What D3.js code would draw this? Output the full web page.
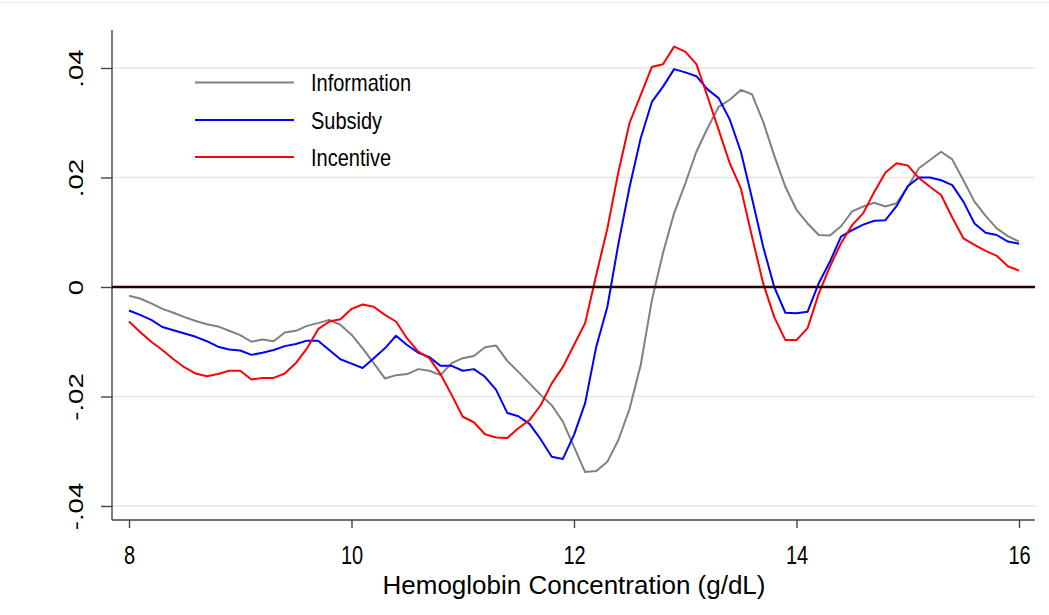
<!DOCTYPE html>
<html>
<head>
<meta charset="utf-8">
<script src="https://cdn.jsdelivr.net/npm/d3@7"></script>
<style>
  html, body { margin: 0; padding: 0; background: #fff; }
  svg { display: block; }
  text { font-family: "Liberation Sans", Arial, Helvetica, sans-serif; fill: #000; }
</style>
</head>
<body>
<svg id="chart" width="1049" height="615"></svg>
<script>
const hemoglobin = [8.0,8.1,8.2,8.3,8.4,8.5,8.6,8.7,8.8,8.9,9.0,9.1,9.2,9.3,9.4,9.5,9.6,9.7,9.8,9.9,
  10.0,10.1,10.2,10.3,10.4,10.5,10.6,10.7,10.8,10.9,11.0,11.1,11.2,11.3,11.4,11.5,11.6,11.7,11.8,11.9,
  12.0,12.1,12.2,12.3,12.4,12.5,12.6,12.7,12.8,12.9,13.0,13.1,13.2,13.3,13.4,13.5,13.6,13.7,13.8,13.9,
  14.0,14.1,14.2,14.3,14.4,14.5,14.6,14.7,14.8,14.9,15.0,15.1,15.2,15.3,15.4,15.5,15.6,15.7,15.8,15.9,16.0];

const information = [-0.0016,-0.0021,-0.0030,-0.0040,-0.0047,-0.0055,-0.0062,-0.0068,-0.0072,-0.0080,
  -0.0088,-0.0100,-0.0096,-0.0099,-0.0083,-0.0080,-0.0071,-0.0066,-0.0060,-0.0069,
  -0.0087,-0.0112,-0.0139,-0.0167,-0.0161,-0.0159,-0.0150,-0.0153,-0.0161,-0.0139,
  -0.0130,-0.0126,-0.0110,-0.0107,-0.0135,-0.0155,-0.0176,-0.0197,-0.0216,-0.0246,
  -0.0292,-0.0338,-0.0336,-0.0319,-0.0279,-0.0222,-0.0142,-0.0024,0.0062,0.0135,
  0.0189,0.0247,0.0290,0.0329,0.0342,0.0360,0.0352,0.0302,0.0240,0.0183,
  0.0141,0.0116,0.0095,0.0094,0.0111,0.0138,0.0147,0.0154,0.0147,0.0153,
  0.0183,0.0217,0.0232,0.0247,0.0233,0.0195,0.0156,0.0130,0.0107,0.0093,0.0083];

const subsidy = [-0.0043,-0.0051,-0.0060,-0.0073,-0.0079,-0.0085,-0.0091,-0.0099,-0.0109,-0.0114,
  -0.0116,-0.0124,-0.0120,-0.0115,-0.0108,-0.0104,-0.0098,-0.0098,-0.0115,-0.0132,
  -0.0140,-0.0148,-0.0130,-0.0112,-0.0089,-0.0106,-0.0120,-0.0128,-0.0144,-0.0144,
  -0.0153,-0.0150,-0.0164,-0.0188,-0.0230,-0.0236,-0.0250,-0.0278,-0.0310,-0.0314,
  -0.0270,-0.0212,-0.0109,-0.0036,0.0080,0.0183,0.0272,0.0338,0.0366,0.0398,
  0.0392,0.0385,0.0361,0.0345,0.0306,0.0247,0.0162,0.0074,0.0000,-0.0047,
  -0.0048,-0.0045,0.0007,0.0046,0.0092,0.0104,0.0114,0.0121,0.0122,0.0148,
  0.0184,0.0200,0.0200,0.0195,0.0186,0.0156,0.0116,0.0099,0.0095,0.0083,0.0079];

const incentive = [-0.0063,-0.0082,-0.0100,-0.0115,-0.0132,-0.0147,-0.0158,-0.0163,-0.0159,-0.0153,
  -0.0153,-0.0169,-0.0166,-0.0166,-0.0158,-0.0139,-0.0112,-0.0077,-0.0063,-0.0059,
  -0.0040,-0.0032,-0.0036,-0.0051,-0.0063,-0.0094,-0.0118,-0.0130,-0.0159,-0.0197,
  -0.0237,-0.0247,-0.0269,-0.0275,-0.0276,-0.0258,-0.0243,-0.0216,-0.0176,-0.0146,
  -0.0106,-0.0066,0.0022,0.0107,0.0211,0.0300,0.0351,0.0402,0.0407,0.0439,
  0.0430,0.0407,0.0348,0.0287,0.0226,0.0180,0.0092,0.0007,-0.0055,-0.0097,
  -0.0097,-0.0075,-0.0012,0.0037,0.0080,0.0113,0.0135,0.0174,0.0209,0.0226,
  0.0222,0.0199,0.0183,0.0168,0.0127,0.0089,0.0077,0.0066,0.0057,0.0038,0.0030];

const seriesNames = ["Information", "Subsidy", "Incentive"];
const seriesColors = ["#808080", "#0000ff", "#ff0000"];
const xTicks = [8, 10, 12, 14, 16];
const yTicks = [-0.04, -0.02, 0, 0.02, 0.04];
const yTickLabels = ["-.04", "-.02", "0", ".02", ".04"];
const xTitle = "Hemoglobin Concentration (g/dL)";

const svg = d3.select("#chart");
const x = d3.scaleLinear().domain([8, 16]).range([129, 1019]);
const y = d3.scaleLinear().domain([-0.04, 0.04]).range([506, 68]);
const plotLeft = 112, plotRight = 1035, plotTop = 30, plotBottom = 520;
const stretch = 1.32; // tick text in the reference is vertically stretched

// top faint border
svg.append("line").attr("x1", 0).attr("x2", 1049).attr("y1", 2.5).attr("y2", 2.5)
  .attr("stroke", "#eeeeee").attr("stroke-width", 1.5);

// gridlines
svg.append("g").selectAll("line").data(yTicks.filter(d => d !== 0)).join("line")
  .attr("x1", plotLeft).attr("x2", plotRight)
  .attr("y1", d => y(d)).attr("y2", d => y(d))
  .attr("stroke", "#e6e6e6").attr("stroke-width", 1.6);

// y axis
const yAxis = d3.axisLeft(y).tickValues(yTicks).tickSize(11).tickFormat((d, i) => yTickLabels[i]);
const gy = svg.append("g").attr("transform", `translate(${plotLeft},0)`).call(yAxis);
gy.select(".domain").remove();
gy.selectAll(".tick line").attr("stroke", "#444").attr("stroke-width", 1.4);
gy.selectAll(".tick text")
  .attr("font-size", 20).attr("font-family", "Liberation Sans, Arial, sans-serif")
  .attr("text-anchor", "middle").attr("x", null).attr("dy", null)
  .attr("transform", `translate(-29,0) rotate(-90) scale(1.38,1)`);
svg.append("line").attr("x1", plotLeft).attr("x2", plotLeft).attr("y1", plotTop).attr("y2", plotBottom)
  .attr("stroke", "#444").attr("stroke-width", 1.4);

// x axis
const xAxis = d3.axisBottom(x).tickValues(xTicks).tickSize(8).tickFormat(d3.format("d"));
const gx = svg.append("g").attr("transform", `translate(0,${plotBottom})`).call(xAxis);
gx.select(".domain").remove();
gx.selectAll(".tick line").attr("stroke", "#444").attr("stroke-width", 1.4);
gx.selectAll(".tick text").attr("font-size", 20)
  .attr("font-family", "Liberation Sans, Arial, sans-serif")
  .attr("y", null).attr("dy", null)
  .attr("transform", `translate(0,44) scale(1,${stretch})`);
svg.append("line").attr("x1", plotLeft).attr("x2", plotRight).attr("y1", plotBottom).attr("y2", plotBottom)
  .attr("stroke", "#444").attr("stroke-width", 1.4);

// x title
svg.append("text")
  .attr("transform", `translate(${(x(8) + x(16)) / 2},594)`)
  .attr("text-anchor", "middle").attr("font-size", 26).text(xTitle);

// series lines
const seriesData = [information, subsidy, incentive];
const line = d3.line().x((d, i) => x(hemoglobin[i])).y(d => y(d));
svg.append("g").selectAll("path").data(seriesData).join("path")
  .attr("d", d => line(d))
  .attr("fill", "none")
  .attr("stroke", (d, i) => seriesColors[i])
  .attr("stroke-width", 2)
  .attr("stroke-linejoin", "round");

// zero line
svg.append("line").attr("x1", plotLeft).attr("x2", plotRight).attr("y1", y(0)).attr("y2", y(0))
  .attr("stroke", "#220000").attr("stroke-width", 2.6);

// legend
const legend = svg.append("g");
const legendY = [82.5, 120, 157];
seriesNames.forEach((name, i) => {
  legend.append("line").attr("x1", 195).attr("x2", 294).attr("y1", legendY[i]).attr("y2", legendY[i])
    .attr("stroke", seriesColors[i]).attr("stroke-width", 2);
  legend.append("text")
    .attr("transform", `translate(311,${legendY[i] + 8.5}) scale(1,1.2)`)
    .attr("font-size", 20).text(name);
});
</script>
</body>
</html>
